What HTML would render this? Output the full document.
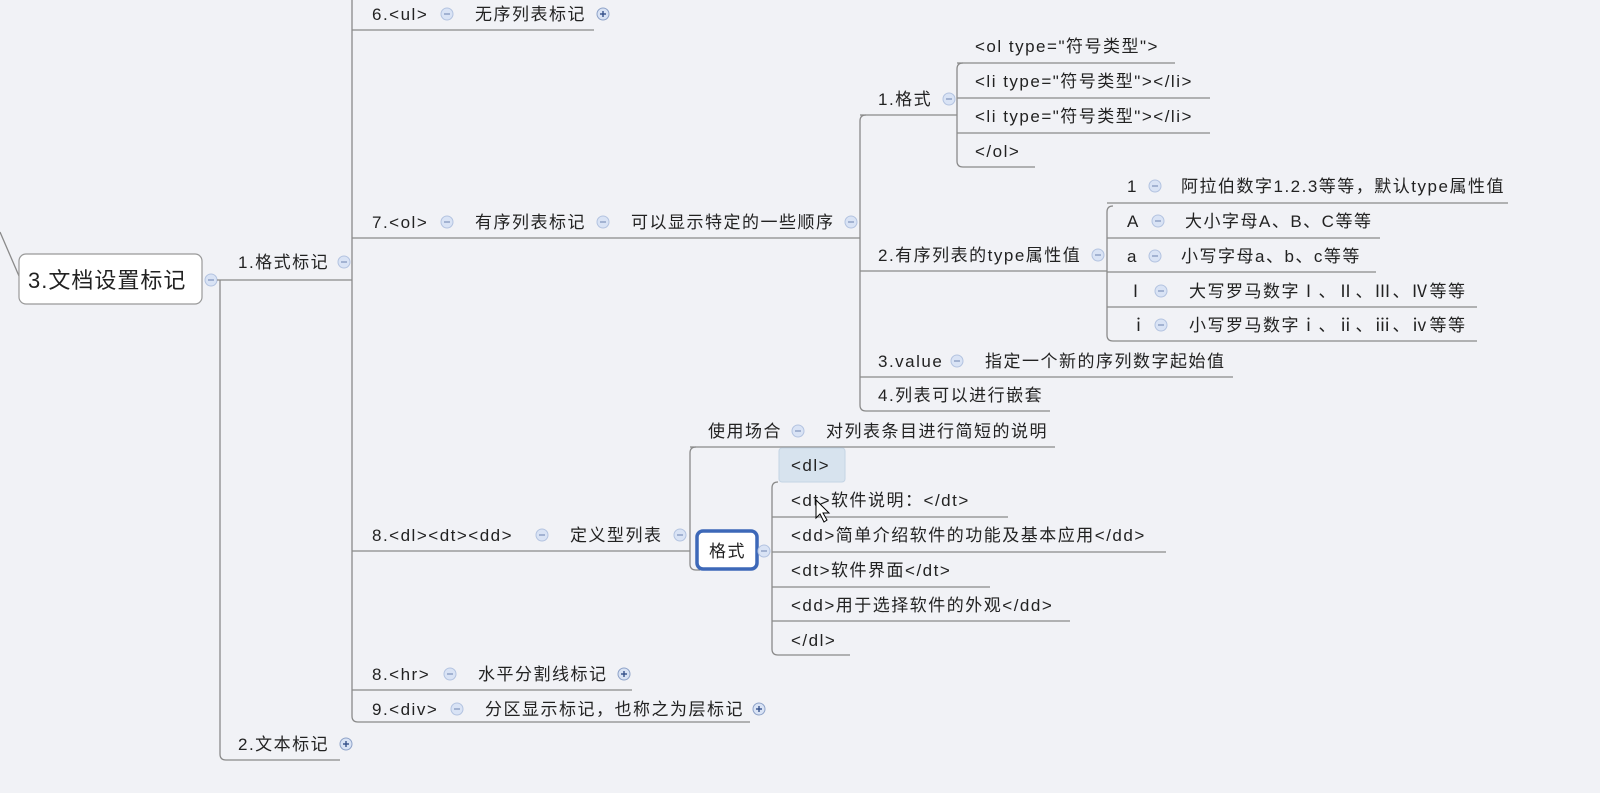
<!DOCTYPE html>
<html><head><meta charset="utf-8"><style>
html,body{margin:0;padding:0;background:#f1f2f6;}
svg{display:block}
text{font-family:"Liberation Sans","Noto Sans CJK SC",sans-serif;font-size:17px;letter-spacing:1.5px;fill:#222;}
.l{stroke:#8a8a8a;stroke-width:1.3;fill:none}
</style></head><body>
<svg width="1600" height="793" viewBox="0 0 1600 793" xmlns="http://www.w3.org/2000/svg">
<defs>
<g id="m"><circle r="6" fill="#d9e3f5" stroke="#b3c3e0"/><line x1="-3" y1="0" x2="3" y2="0" stroke="#7f93bb" stroke-width="1.2"/></g>
<g id="p"><circle r="6" fill="#d9e3f5" stroke="#8ea2c8"/><line x1="-3" y1="0" x2="3" y2="0" stroke="#34508a" stroke-width="1.4"/><line x1="0" y1="-3" x2="0" y2="3" stroke="#34508a" stroke-width="1.4"/></g>
</defs>
<!-- root -->
<line class="l" x1="0" y1="232" x2="19" y2="276"/>
<rect x="19" y="254" width="183" height="50" rx="7" fill="#fff" stroke="#999" stroke-width="1.2"/>
<text x="28" y="288" style="font-size:22px;letter-spacing:1px">3.文档设置标记</text>
<use href="#m" x="211" y="280"/>
<path class="l" d="M217 280 H352"/>
<path class="l" d="M220 280 V754 q0 6 6 6 H340"/>
<text x="238" y="268">1.格式标记</text><use href="#m" x="344" y="262"/>
<text x="238" y="750">2.文本标记</text><use href="#p" x="346" y="744"/>
<!-- level 2 trunk -->
<path class="l" d="M352 0 V716 q0 6 6 6 H750"/>
<path class="l" d="M352 30 H594 M352 238 H860 M352 551 H690 M352 690 H632"/>
<text x="372" y="20">6.&lt;ul&gt;</text><use href="#m" x="447" y="14"/><text x="475" y="20">无序列表标记</text><use href="#p" x="603" y="14"/>
<text x="372" y="228">7.&lt;ol&gt;</text><use href="#m" x="447" y="222"/><text x="475" y="228">有序列表标记</text><use href="#m" x="603" y="222"/><text x="631" y="228">可以显示特定的一些顺序</text><use href="#m" x="851" y="222"/>
<text x="372" y="541">8.&lt;dl&gt;&lt;dt&gt;&lt;dd&gt;</text><use href="#m" x="542" y="535"/><text x="570" y="541">定义型列表</text><use href="#m" x="680" y="535"/>
<text x="372" y="680">8.&lt;hr&gt;</text><use href="#m" x="450" y="674"/><text x="478" y="680">水平分割线标记</text><use href="#p" x="624" y="674"/>
<text x="372" y="715">9.&lt;div&gt;</text><use href="#m" x="457" y="709"/><text x="485" y="715">分区显示标记，也称之为层标记</text><use href="#p" x="759" y="709"/>
<!-- ol subtree -->
<path class="l" d="M866 115 q-6 0 -6 6 V405 q0 6 6 6 H1050"/>
<path class="l" d="M860 115 H957 M860 271 H1107 M860 377 H1233"/>
<text x="878" y="105">1.格式</text><use href="#m" x="949" y="99"/>
<path class="l" d="M963 63 q-6 0 -6 6 V161 q0 6 6 6 H1035"/>
<path class="l" d="M957 63 H1175 M957 98 H1210 M957 133 H1210"/>
<text x="975" y="52">&lt;ol type="符号类型"&gt;</text>
<text x="975" y="87">&lt;li type="符号类型"&gt;&lt;/li&gt;</text>
<text x="975" y="122">&lt;li type="符号类型"&gt;&lt;/li&gt;</text>
<text x="975" y="157">&lt;/ol&gt;</text>
<text x="878" y="261">2.有序列表的type属性值</text><use href="#m" x="1098" y="255"/>
<path class="l" d="M1113 206 q-6 0 -6 6 V335 q0 6 6 6 H1477"/>
<path class="l" d="M1107 203 H1508 M1107 238 H1380 M1107 272 H1376 M1107 307 H1477"/>
<text x="1127" y="192">1</text><use href="#m" x="1155" y="186"/><text x="1181" y="192">阿拉伯数字1.2.3等等，默认type属性值</text>
<text x="1127" y="227">A</text><use href="#m" x="1158" y="221"/><text x="1185" y="227">大小字母A、B、C等等</text>
<text x="1127" y="262">a</text><use href="#m" x="1155" y="256"/><text x="1181" y="262">小写字母a、b、c等等</text>
<text x="1127" y="297">Ⅰ</text><use href="#m" x="1161" y="291"/><text x="1189" y="297">大写罗马数字Ⅰ、Ⅱ、Ⅲ、Ⅳ等等</text>
<text x="1130" y="331">ⅰ</text><use href="#m" x="1161" y="325"/><text x="1189" y="331">小写罗马数字ⅰ、ⅱ、ⅲ、ⅳ等等</text>
<text x="878" y="367">3.value</text><use href="#m" x="957" y="361"/><text x="985" y="367">指定一个新的序列数字起始值</text>
<text x="878" y="401">4.列表可以进行嵌套</text>
<!-- dl subtree -->
<path class="l" d="M696 447 q-6 0 -6 6 V564 q0 6 6 6 H700"/>
<path class="l" d="M690 447 H1055"/>
<text x="708" y="437">使用场合</text><use href="#m" x="798" y="431"/><text x="826" y="437">对列表条目进行简短的说明</text>
<rect x="697" y="531" width="60" height="38" rx="6" fill="#fff" stroke="#3d68b8" stroke-width="3.5"/>
<text x="709" y="557">格式</text>
<use href="#m" x="764" y="551"/>
<path class="l" d="M778 482 q-6 0 -6 6 V649 q0 6 6 6 H850"/>
<path class="l" d="M772 517 H1008 M772 552 H1166 M772 587 H990 M772 621 H1070"/>
<rect x="779" y="448" width="66" height="34" rx="3" fill="#d7e3ee" stroke="#c4d4e4"/>
<text x="791" y="471">&lt;dl&gt;</text>
<text x="791" y="506">&lt;dt&gt;软件说明：&lt;/dt&gt;</text>
<text x="791" y="541">&lt;dd&gt;简单介绍软件的功能及基本应用&lt;/dd&gt;</text>
<text x="791" y="576">&lt;dt&gt;软件界面&lt;/dt&gt;</text>
<text x="791" y="611">&lt;dd&gt;用于选择软件的外观&lt;/dd&gt;</text>
<text x="791" y="646">&lt;/dl&gt;</text>
<path d="M816 500 L816 518 L820 514 L824 522 L827 520 L823 513 L829 513 Z" fill="#fff" stroke="#000" stroke-width="1"/>
</svg>
</body></html>
